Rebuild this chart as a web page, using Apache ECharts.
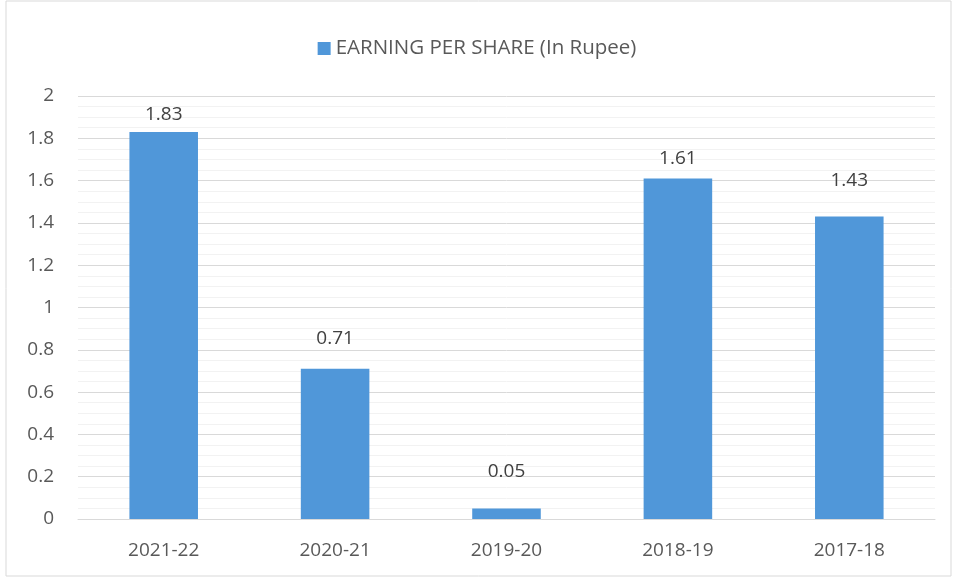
<!DOCTYPE html>
<html>
<head>
<meta charset="utf-8">
<script src="https://cdn.jsdelivr.net/npm/echarts@6/dist/echarts.min.js"></script>
<style>
  html, body { margin: 0; padding: 0; background: #fff; }
  #chart { width: 954px; height: 579px; }
</style>
</head>
<body>
<div id="chart"></div>
<script>
const years = ['2021-22', '2020-21', '2019-20', '2018-19', '2017-18'];
const eps = [1.83, 0.71, 0.05, 1.61, 1.43];
const seriesName = 'EARNING PER SHARE (In Rupee)';
// labels were nudged by hand in the original, so gaps differ per bar
const labelGap = [8, 21, 27, 10, 26];

const chart = echarts.init(document.getElementById('chart'));
chart.setOption({
    animation: false,
    textStyle: { fontFamily: 'Open Sans, Noto Sans, sans-serif', color: '#595959' },
    graphic: [{
        type: 'rect',
        shape: { x: 6, y: 1, width: 945, height: 575 },
        style: { fill: 'none', stroke: '#d9d9d9', lineWidth: 1 }
    }],
    legend: {
        top: 33,
        left: 'center',
        itemWidth: 13,
        itemHeight: 13,
        itemGap: 6,
        icon: 'rect',
        textStyle: { fontSize: 20.5, color: '#595959' }
    },
    grid: { left: 78, right: 19, top: 96, bottom: 60, containLabel: false },
    xAxis: {
        type: 'category',
        data: years,
        axisLine: { lineStyle: { color: '#d9d9d9' } },
        axisTick: { show: false },
        axisLabel: { fontSize: 19, color: '#595959', margin: 22 }
    },
    yAxis: {
        type: 'value',
        min: 0,
        max: 2,
        interval: 0.2,
        axisLine: { show: false },
        axisTick: { show: false },
        axisLabel: { fontSize: 19, color: '#595959', margin: 24 },
        splitLine: { lineStyle: { color: '#d9d9d9' } },
        minorTick: { show: false, splitNumber: 4 },
        minorSplitLine: { show: true, lineStyle: { color: '#f2f2f2' } }
    },
    series: [{
        name: seriesName,
        type: 'bar',
        data: eps.map((v, i) => ({ value: v, label: { distance: labelGap[i] } })),
        barWidth: '40%',
        itemStyle: { color: '#5097d9' },
        label: {
            show: true,
            position: 'top',
            fontSize: 19,
            color: '#404040'
        }
    }]
});
</script>
</body>
</html>
